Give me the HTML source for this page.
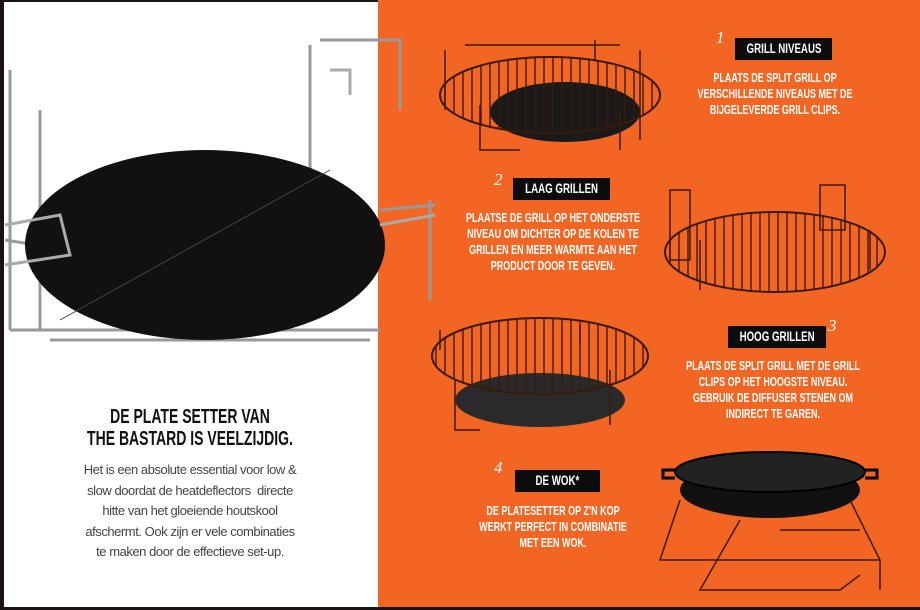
<!DOCTYPE html>
<html><head><meta charset="utf-8"><style>
body{margin:0;width:920px;height:610px;overflow:hidden;background:#fff;font-family:"Liberation Sans",sans-serif;position:relative}
.or{position:absolute;left:378px;top:0;width:542px;height:610px;background:#f26522}
.edgeL{position:absolute;left:0;top:0;width:4px;height:610px;background:#1a1214}
.edgeT{position:absolute;left:0;top:0;width:378px;height:2px;background:#1a1214}
.edgeB{position:absolute;left:0;top:607px;width:920px;height:3px;background:#1a1214}
.box{position:absolute;background:#0c0c0c;height:22px;overflow:hidden;display:flex;justify-content:center;align-items:center}
.box span{display:inline-block;flex:none;color:#fff;font-weight:bold;font-size:13.5px;line-height:22px;white-space:nowrap;transform:scaleX(.72)}
.num{position:absolute;color:#fff;font-family:"Liberation Serif",serif;font-style:italic;font-size:17px}
.t{position:absolute;width:280px;color:#fff;font-weight:bold;font-size:12.5px;line-height:16px;text-align:center;white-space:nowrap;transform:scaleX(.72);transform-origin:center}
h1{position:absolute;left:-10px;width:400px;top:406px;margin:0;text-align:center;font-size:20px;line-height:22px;font-weight:bold;color:#111;transform:scaleX(.7);transform-origin:center;white-space:nowrap}
p{position:absolute;left:30px;width:320px;top:460px;margin:0;text-align:center;font-size:13px;line-height:20.5px;color:#444;letter-spacing:-0.45px}
svg{position:absolute;left:0;top:0}
</style></head><body>
<div class="or"></div>
<svg width="920" height="610">
<defs>
<pattern id="g" width="9" height="9" patternUnits="userSpaceOnUse"><line x1="4" y1="0" x2="4" y2="9" stroke="#3a1a0a" stroke-width="1.4"/></pattern>
</defs>
<g fill="none" stroke="#999" stroke-width="3">
<path d="M10 70 V330 M40 110 V330 M310 45 V170 M320 40 H400 V110 M430 200 V300 M10 330 L380 330 M50 340 H370"/>
<path d="M380 210 L435 205 M5 240 L70 250"/>
</g>
<ellipse cx="205" cy="245" rx="180" ry="95" fill="#111"/>
<line x1="60" y1="320" x2="330" y2="170" stroke="#444" stroke-width="1"/>
<g fill="none" stroke="#aaa" stroke-width="3"><path d="M5 225 L60 215 L70 255 L5 265 M380 225 L435 215 M330 70 H350 V95"/></g>
<ellipse cx="565" cy="112" rx="75" ry="30" fill="#1a1a1a"/>
<ellipse cx="550" cy="95" rx="110" ry="38" fill="url(#g)" stroke="#3a1a0a" stroke-width="2"/>
<g fill="none" stroke="#3a1a0a" stroke-width="1.5"><path d="M445 50 V110 M465 45 H620 M595 40 V60 M640 50 V140 M480 105 V150 H520 M620 110 V150"/></g>
<ellipse cx="775" cy="252" rx="110" ry="40" fill="url(#g)" stroke="#3a1a0a" stroke-width="2"/>
<g fill="none" stroke="#3a1a0a" stroke-width="1.5"><path d="M670 190 V260 H690 V190 Z M820 185 V230 H845 V185 Z M700 240 V290 M870 230 V270"/></g>
<ellipse cx="540" cy="400" rx="85" ry="27" fill="#2a2a2a"/>
<ellipse cx="540" cy="356" rx="108" ry="38" fill="url(#g)" stroke="#3a1a0a" stroke-width="2"/>
<g fill="none" stroke="#3a1a0a" stroke-width="1.5"><path d="M440 330 V350 M580 325 V345 M455 380 V430 H480 M610 370 V425"/></g>
<ellipse cx="770" cy="490" rx="90" ry="28" fill="#111"/>
<ellipse cx="770" cy="472" rx="95" ry="20" fill="#222" stroke="#000" stroke-width="2"/>
<path d="M675 470 h-12 v8 h12 M865 470 h12 v8 h-12" stroke="#000" stroke-width="3" fill="none"/>
<g fill="none" stroke="#3a1a0a" stroke-width="1.5"><path d="M680 500 L660 560 H700 M740 520 L700 590 H760 M850 500 L880 560 V590 M780 530 H860 M700 560 H880 M760 590 H840 L860 575"/></g>
</svg>
<div class="edgeL"></div><div class="edgeT"></div><div class="edgeB"></div>

<div class="num" style="left:716px;top:28px">1</div>
<div class="box" style="left:735px;top:38px;width:97px"><span>GRILL NIVEAUS</span></div>
<div class="t" style="left:635px;top:70px">PLAATS DE SPLIT GRILL OP<br>VERSCHILLENDE NIVEAUS MET DE<br>BIJGELEVERDE GRILL CLIPS.</div>

<div class="num" style="left:494px;top:170px">2</div>
<div class="box" style="left:513px;top:178px;width:97px"><span>LAAG GRILLEN</span></div>
<div class="t" style="left:413px;top:210px">PLAATSE DE GRILL OP HET ONDERSTE<br>NIVEAU OM DICHTER OP DE KOLEN TE<br>GRILLEN EN MEER WARMTE AAN HET<br>PRODUCT DOOR TE GEVEN.</div>

<div class="num" style="left:828px;top:316px">3</div>
<div class="box" style="left:728px;top:326px;width:98px"><span>HOOG GRILLEN</span></div>
<div class="t" style="left:633px;top:358px">PLAATS DE SPLIT GRILL MET DE GRILL<br>CLIPS OP HET HOOGSTE NIVEAU.<br>GEBRUIK DE DIFFUSER STENEN OM<br>INDIRECT TE GAREN.</div>

<div class="num" style="left:494px;top:458px">4</div>
<div class="box" style="left:515px;top:470px;width:85px"><span>DE WOK*</span></div>
<div class="t" style="left:413px;top:503px">DE PLATESETTER OP Z'N KOP<br>WERKT PERFECT IN COMBINATIE<br>MET EEN WOK.</div>

<h1>DE PLATE SETTER VAN<br>THE BASTARD IS VEELZIJDIG.</h1>
<p>Het is een absolute essential voor low &amp;<br>slow doordat de heatdeflectors&nbsp; directe<br>hitte van het gloeiende houtskool<br>afschermt. Ook zijn er vele combinaties<br>te maken door de effectieve set-up.</p>
</body></html>
